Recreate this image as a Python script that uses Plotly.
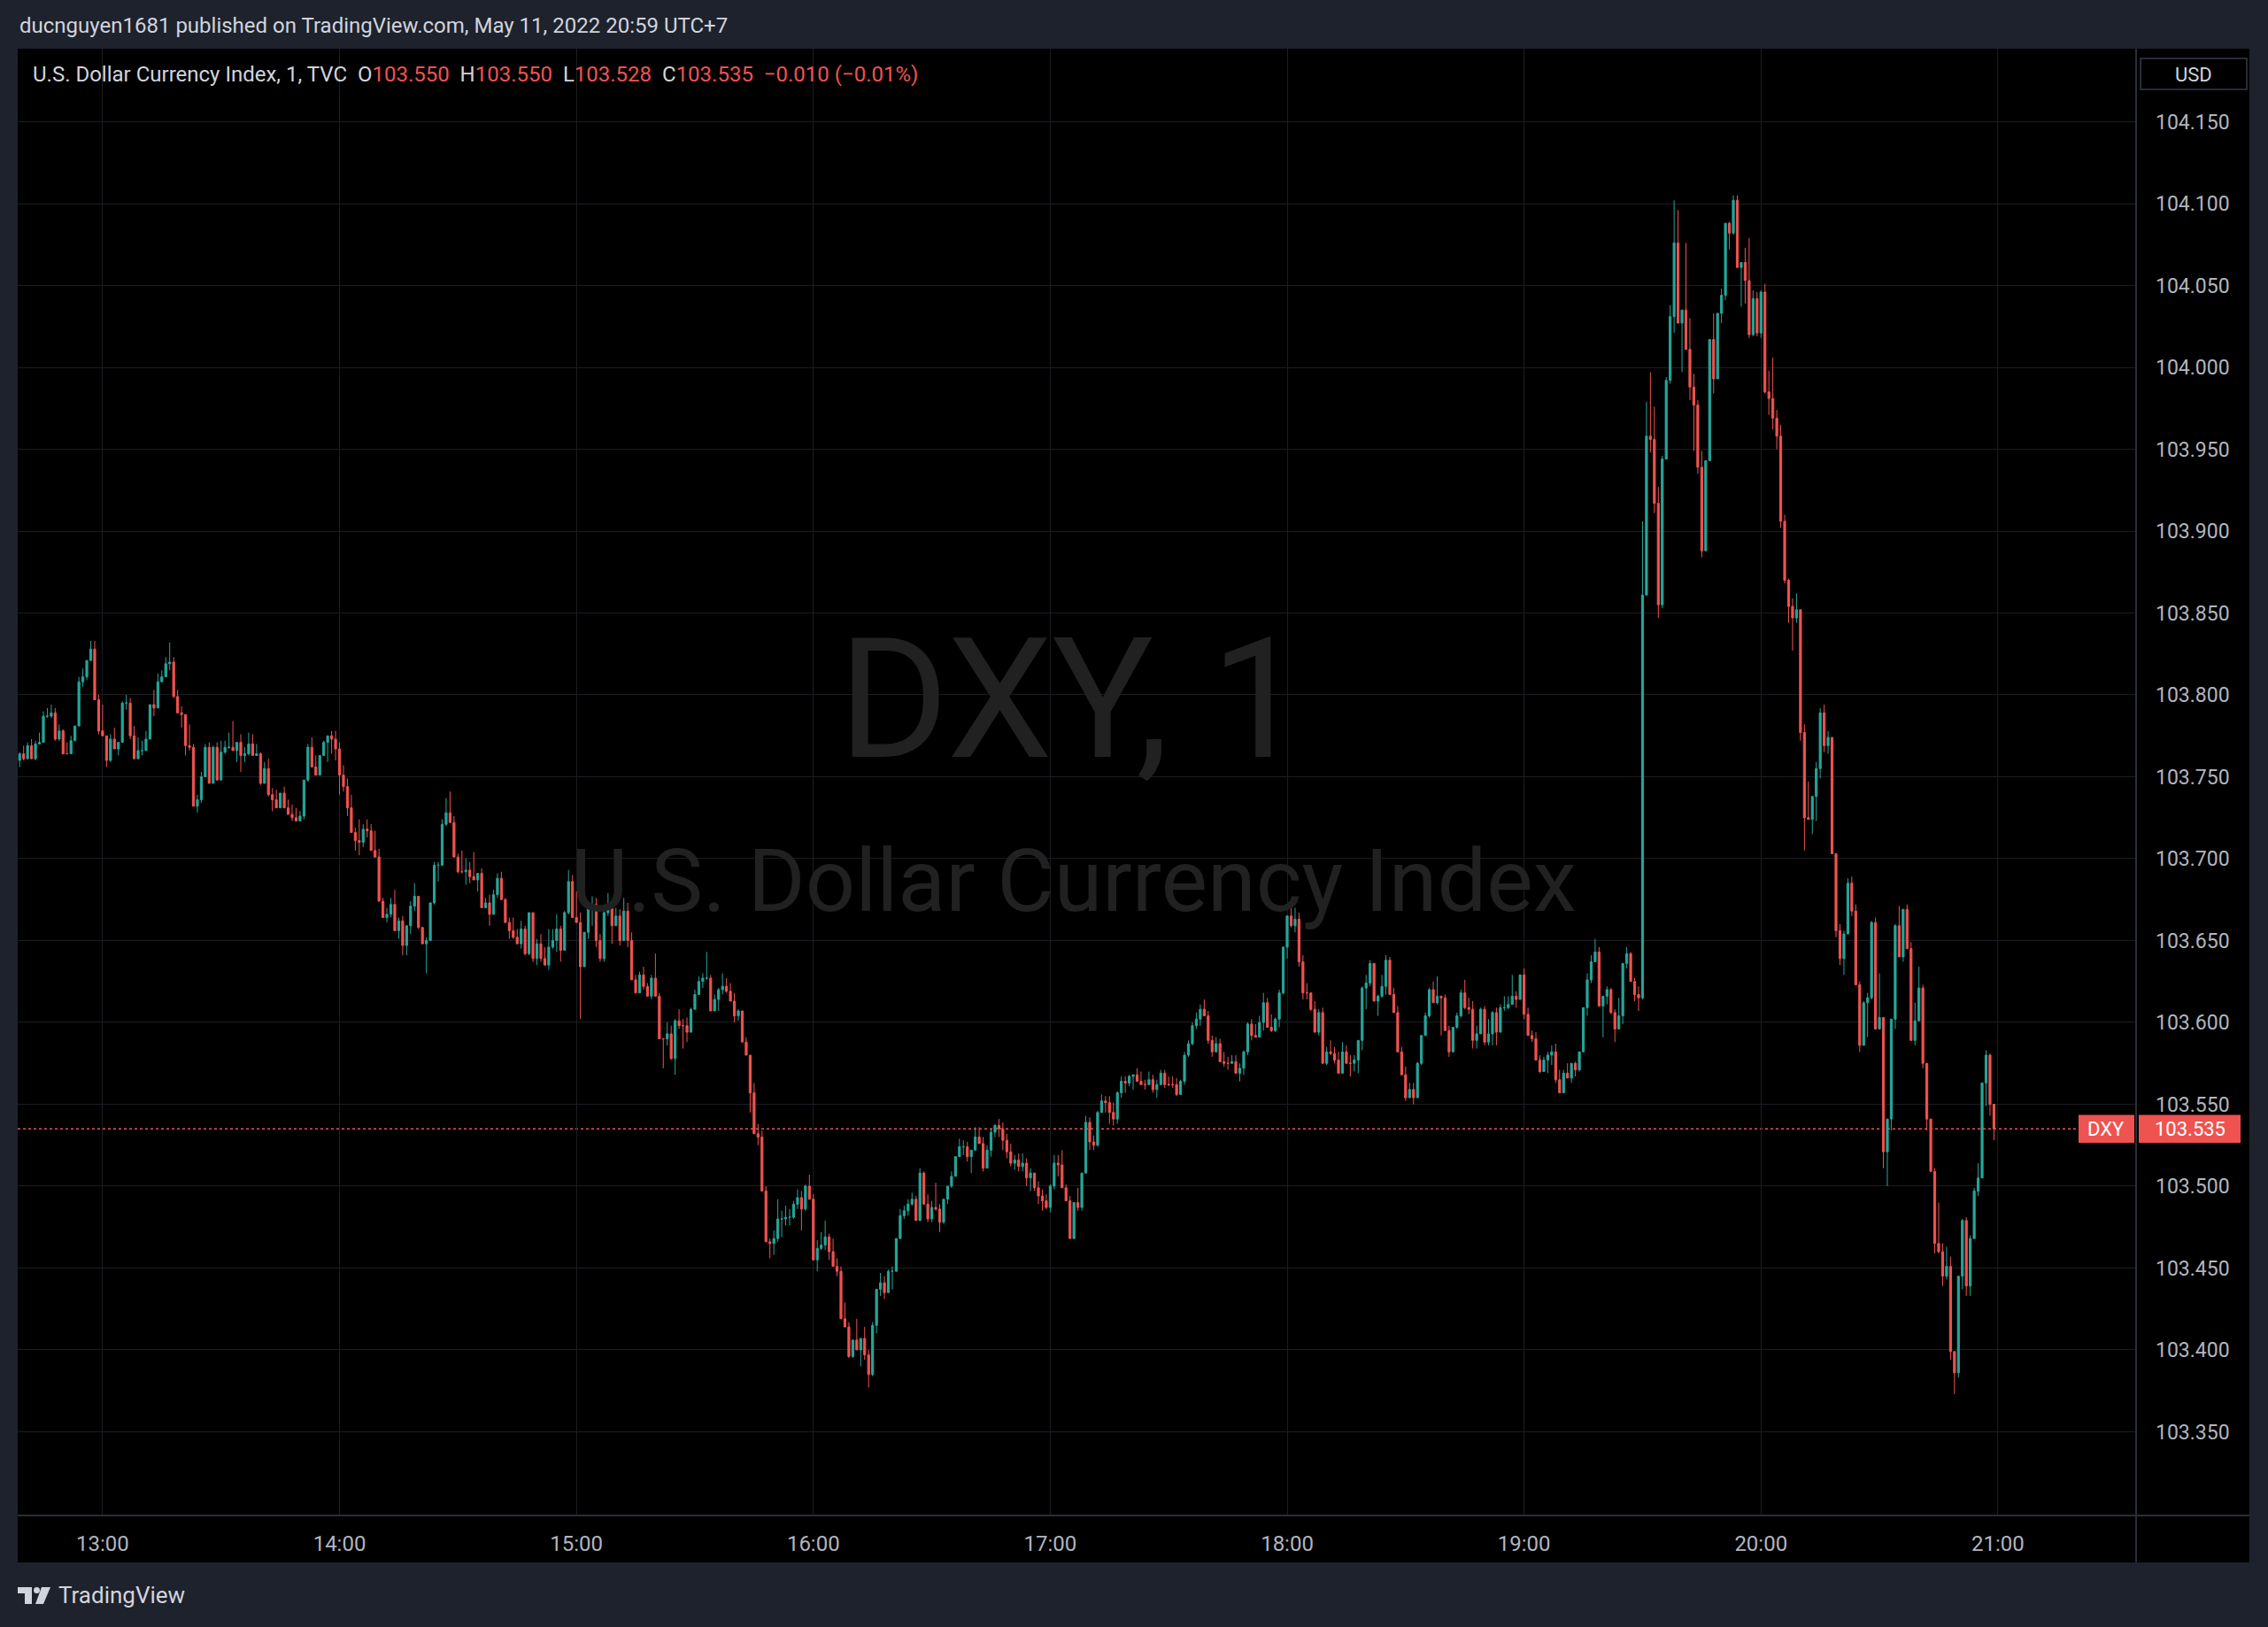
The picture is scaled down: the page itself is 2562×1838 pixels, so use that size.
import plotly.graph_objects as go
import pandas as pd

# ---------------- data (DXY, 1-minute, 11 May 2022, UTC+7) ----------------
start_time = "2022-05-11 12:39"
first_open = 103.760

closes = [
    103.764, 103.761, 103.769, 103.761, 103.770, 103.771, 103.787, 103.787, 103.789, 103.773,
    103.778, 103.764, 103.764, 103.772, 103.781, 103.808, 103.811, 103.821, 103.828, 103.797,
    103.778, 103.775, 103.760, 103.773, 103.767, 103.771, 103.795, 103.795, 103.775, 103.761,
    103.766, 103.766, 103.773, 103.794, 103.792, 103.808, 103.811, 103.819, 103.820, 103.799,
    103.789, 103.788, 103.769, 103.768, 103.732, 103.736, 103.750, 103.768, 103.746, 103.768,
    103.748, 103.765, 103.768, 103.768, 103.766, 103.771, 103.763, 103.764, 103.770, 103.763,
    103.764, 103.746, 103.755, 103.739, 103.736, 103.731, 103.740, 103.731, 103.727, 103.725,
    103.723, 103.726, 103.748, 103.768, 103.756, 103.751, 103.763, 103.771, 103.775, 103.773,
    103.767, 103.751, 103.744, 103.731, 103.716, 103.711, 103.710, 103.718, 103.717, 103.705,
    103.701, 103.674, 103.664, 103.666, 103.672, 103.656, 103.662, 103.647, 103.659, 103.671,
    103.677, 103.658, 103.648, 103.650, 103.673, 103.696, 103.696, 103.721, 103.728, 103.722,
    103.701, 103.692, 103.692, 103.693, 103.689, 103.687, 103.691, 103.670, 103.673, 103.666,
    103.678, 103.688, 103.675, 103.661, 103.656, 103.652, 103.648, 103.657, 103.642, 103.667,
    103.639, 103.648, 103.639, 103.635, 103.646, 103.650, 103.657, 103.644, 103.667, 103.686,
    103.664, 103.661, 103.634, 103.655, 103.670, 103.672, 103.650, 103.639, 103.667, 103.670,
    103.659, 103.665, 103.650, 103.668, 103.650, 103.626, 103.618, 103.629, 103.622, 103.616,
    103.627, 103.616, 103.590, 103.590, 103.593, 103.578, 103.601, 103.598, 103.598, 103.594,
    103.608, 103.617, 103.625, 103.627, 103.627, 103.607, 103.614, 103.620, 103.622, 103.619,
    103.613, 103.604, 103.607, 103.588, 103.580, 103.557, 103.532, 103.530, 103.497, 103.466,
    103.465, 103.468, 103.480, 103.480, 103.481, 103.481, 103.489, 103.493, 103.486, 103.500,
    103.492, 103.455, 103.462, 103.464, 103.469, 103.460, 103.451, 103.448, 103.419, 103.414,
    103.396, 103.406, 103.400, 103.407, 103.397, 103.385, 103.415, 103.437, 103.441, 103.435,
    103.448, 103.448, 103.468, 103.482, 103.485, 103.489, 103.492, 103.479, 103.508, 103.489,
    103.480, 103.487, 103.486, 103.478, 103.492, 103.500, 103.506, 103.518, 103.524, 103.524,
    103.518, 103.522, 103.530, 103.526, 103.511, 103.522, 103.533, 103.537, 103.535, 103.528,
    103.521, 103.514, 103.516, 103.512, 103.514, 103.505, 103.508, 103.499, 103.494, 103.491,
    103.487, 103.500, 103.514, 103.513, 103.499, 103.491, 103.468, 103.490, 103.487, 103.508,
    103.539, 103.527, 103.525, 103.545, 103.552, 103.551, 103.545, 103.541, 103.557, 103.564,
    103.563, 103.567, 103.568, 103.564, 103.562, 103.562, 103.565, 103.559, 103.562, 103.569,
    103.562, 103.562, 103.562, 103.556, 103.564, 103.580, 103.587, 103.598, 103.602, 103.608,
    103.604, 103.589, 103.582, 103.587, 103.576, 103.575, 103.575, 103.576, 103.569, 103.572,
    103.582, 103.599, 103.592, 103.591, 103.600, 103.612, 103.597, 103.595, 103.602, 103.618,
    103.646, 103.665, 103.659, 103.663, 103.637, 103.618, 103.618, 103.608, 103.594, 103.606,
    103.575, 103.582, 103.581, 103.577, 103.569, 103.582, 103.575, 103.575, 103.577, 103.589,
    103.621, 103.624, 103.636, 103.613, 103.616, 103.622, 103.638, 103.617, 103.606, 103.582,
    103.568, 103.554, 103.559, 103.554, 103.575, 103.592, 103.604, 103.620, 103.612, 103.616,
    103.615, 103.595, 103.582, 103.597, 103.604, 103.618, 103.609, 103.608, 103.589, 103.593,
    103.608, 103.588, 103.593, 103.606, 103.594, 103.609, 103.609, 103.611, 103.616, 103.614,
    103.629, 103.605, 103.592, 103.590, 103.577, 103.570, 103.577, 103.580, 103.582, 103.565,
    103.557, 103.569, 103.566, 103.575, 103.571, 103.582, 103.609, 103.626, 103.637, 103.643,
    103.610, 103.616, 103.620, 103.606, 103.596, 103.604, 103.636, 103.642, 103.625, 103.617,
    103.615, 103.861, 103.958, 103.956, 103.917, 103.855, 103.944, 103.992, 104.031, 104.076,
    104.027, 104.035, 104.011, 103.988, 103.977, 103.939, 103.888, 103.943, 104.017, 103.993,
    104.033, 104.044, 104.088, 104.082, 104.102, 104.061, 104.064, 104.053, 104.020, 104.042,
    104.021, 104.046, 103.985, 103.981, 103.969, 103.958, 103.906, 103.870, 103.854, 103.847,
    103.852, 103.777, 103.725, 103.724, 103.738, 103.755, 103.789, 103.769, 103.774, 103.703,
    103.656, 103.639, 103.654, 103.685, 103.668, 103.623, 103.586, 103.612, 103.615, 103.661,
    103.596, 103.603, 103.521, 103.541, 103.602, 103.659, 103.640, 103.669, 103.645, 103.589,
    103.601, 103.621, 103.575, 103.541, 103.509, 103.465, 103.460, 103.445, 103.451, 103.399,
    103.386, 103.445, 103.479, 103.439, 103.468, 103.497, 103.505, 103.563, 103.580, 103.550,
    103.535,
]

highs = [
    103.765, 103.769, 103.771, 103.773, 103.772, 103.777, 103.790, 103.792, 103.794, 103.792,
    103.782, 103.779, 103.771, 103.775, 103.781, 103.811, 103.816, 103.821, 103.833, 103.833,
    103.800, 103.794, 103.775, 103.776, 103.780, 103.771, 103.796, 103.800, 103.798, 103.781,
    103.774, 103.772, 103.778, 103.794, 103.803, 103.813, 103.815, 103.823, 103.832, 103.823,
    103.803, 103.793, 103.788, 103.782, 103.770, 103.739, 103.753, 103.770, 103.771, 103.769,
    103.771, 103.772, 103.772, 103.777, 103.784, 103.771, 103.776, 103.768, 103.777, 103.776,
    103.770, 103.765, 103.759, 103.761, 103.743, 103.742, 103.740, 103.744, 103.736, 103.733,
    103.731, 103.729, 103.748, 103.770, 103.774, 103.763, 103.763, 103.772, 103.775, 103.778,
    103.778, 103.771, 103.757, 103.749, 103.739, 103.719, 103.724, 103.721, 103.724, 103.721,
    103.717, 103.706, 103.676, 103.670, 103.676, 103.681, 103.664, 103.665, 103.659, 103.674,
    103.685, 103.677, 103.658, 103.652, 103.673, 103.698, 103.698, 103.724, 103.737, 103.741,
    103.726, 103.703, 103.705, 103.700, 103.698, 103.704, 103.691, 103.694, 103.676, 103.678,
    103.681, 103.691, 103.692, 103.676, 103.664, 103.664, 103.657, 103.662, 103.659, 103.667,
    103.666, 103.651, 103.654, 103.646, 103.657, 103.657, 103.666, 103.659, 103.668, 103.693,
    103.690, 103.680, 103.667, 103.655, 103.674, 103.677, 103.676, 103.654, 103.668, 103.679,
    103.672, 103.670, 103.669, 103.676, 103.673, 103.655, 103.629, 103.631, 103.634, 103.624,
    103.629, 103.642, 103.618, 103.590, 103.600, 103.598, 103.602, 103.608, 103.602, 103.603,
    103.609, 103.620, 103.628, 103.630, 103.643, 103.629, 103.617, 103.621, 103.630, 103.627,
    103.624, 103.618, 103.608, 103.607, 103.591, 103.580, 103.563, 103.538, 103.534, 103.500,
    103.468, 103.473, 103.492, 103.485, 103.488, 103.486, 103.491, 103.498, 103.497, 103.501,
    103.507, 103.495, 103.467, 103.472, 103.479, 103.471, 103.468, 103.456, 103.451, 103.429,
    103.417, 103.406, 103.419, 103.407, 103.414, 103.400, 103.417, 103.437, 103.447, 103.445,
    103.449, 103.451, 103.468, 103.486, 103.488, 103.492, 103.496, 103.494, 103.511, 103.509,
    103.495, 103.491, 103.502, 103.489, 103.492, 103.500, 103.509, 103.518, 103.529, 103.528,
    103.527, 103.522, 103.536, 103.536, 103.530, 103.525, 103.535, 103.538, 103.541, 103.539,
    103.532, 103.526, 103.519, 103.520, 103.520, 103.517, 103.511, 103.508, 103.503, 103.498,
    103.495, 103.501, 103.519, 103.519, 103.522, 103.501, 103.494, 103.490, 103.499, 103.508,
    103.543, 103.542, 103.531, 103.546, 103.556, 103.555, 103.555, 103.551, 103.558, 103.567,
    103.567, 103.568, 103.568, 103.572, 103.570, 103.565, 103.570, 103.568, 103.565, 103.571,
    103.571, 103.567, 103.567, 103.566, 103.565, 103.582, 103.589, 103.600, 103.606, 103.611,
    103.614, 103.607, 103.592, 103.591, 103.590, 103.582, 103.579, 103.580, 103.580, 103.575,
    103.583, 103.600, 103.602, 103.599, 103.604, 103.618, 103.615, 103.605, 103.603, 103.620,
    103.646, 103.665, 103.670, 103.670, 103.667, 103.641, 103.624, 103.618, 103.613, 103.608,
    103.609, 103.585, 103.589, 103.585, 103.582, 103.588, 103.586, 103.580, 103.580, 103.589,
    103.622, 103.629, 103.638, 103.636, 103.617, 103.629, 103.641, 103.640, 103.621, 103.610,
    103.585, 103.573, 103.563, 103.563, 103.576, 103.592, 103.606, 103.621, 103.625, 103.628,
    103.616, 103.617, 103.598, 103.597, 103.606, 103.620, 103.626, 103.615, 103.613, 103.598,
    103.609, 103.610, 103.602, 103.607, 103.609, 103.611, 103.616, 103.616, 103.629, 103.619,
    103.629, 103.633, 103.609, 103.595, 103.594, 103.580, 103.579, 103.582, 103.586, 103.587,
    103.571, 103.571, 103.575, 103.575, 103.576, 103.582, 103.609, 103.630, 103.641, 103.651,
    103.646, 103.616, 103.622, 103.621, 103.608, 103.615, 103.636, 103.646, 103.643, 103.627,
    103.622, 103.906, 103.979, 103.997, 103.976, 103.927, 103.946, 103.994, 104.038, 104.102,
    104.096, 104.035, 104.076, 104.030, 103.996, 103.980, 103.949, 103.943, 104.017, 104.033,
    104.033, 104.048, 104.088, 104.089, 104.105, 104.105, 104.064, 104.073, 104.079, 104.047,
    104.046, 104.047, 104.051, 103.998, 104.006, 103.974, 103.965, 103.910, 103.871, 103.859,
    103.862, 103.852, 103.782, 103.747, 103.738, 103.759, 103.792, 103.794, 103.778, 103.773,
    103.701, 103.660, 103.656, 103.688, 103.689, 103.672, 103.625, 103.613, 103.618, 103.662,
    103.664, 103.630, 103.602, 103.541, 103.602, 103.660, 103.671, 103.669, 103.672, 103.649,
    103.612, 103.634, 103.623, 103.574, 103.541, 103.511, 103.490, 103.465, 103.463, 103.457,
    103.399, 103.445, 103.480, 103.481, 103.470, 103.499, 103.514, 103.563, 103.583, 103.581,
    103.550,
]

lows = [
    103.756, 103.760, 103.762, 103.761, 103.760, 103.770, 103.774, 103.786, 103.786, 103.772,
    103.772, 103.764, 103.764, 103.765, 103.773, 103.781, 103.805, 103.809, 103.821, 103.797,
    103.776, 103.775, 103.756, 103.759, 103.767, 103.763, 103.771, 103.791, 103.773, 103.761,
    103.761, 103.763, 103.767, 103.773, 103.787, 103.794, 103.808, 103.811, 103.815, 103.798,
    103.789, 103.780, 103.763, 103.766, 103.732, 103.728, 103.734, 103.750, 103.746, 103.748,
    103.748, 103.753, 103.764, 103.767, 103.766, 103.759, 103.753, 103.759, 103.763, 103.763,
    103.763, 103.745, 103.746, 103.738, 103.729, 103.731, 103.732, 103.731, 103.727, 103.723,
    103.723, 103.723, 103.724, 103.747, 103.756, 103.751, 103.752, 103.763, 103.759, 103.764,
    103.760, 103.739, 103.741, 103.726, 103.716, 103.705, 103.702, 103.707, 103.713, 103.705,
    103.701, 103.674, 103.664, 103.661, 103.664, 103.656, 103.651, 103.641, 103.641, 103.654,
    103.668, 103.657, 103.648, 103.630, 103.651, 103.672, 103.686, 103.702, 103.720, 103.722,
    103.701, 103.691, 103.691, 103.684, 103.685, 103.687, 103.680, 103.670, 103.670, 103.659,
    103.668, 103.676, 103.675, 103.661, 103.651, 103.651, 103.648, 103.645, 103.641, 103.641,
    103.637, 103.635, 103.637, 103.635, 103.632, 103.645, 103.643, 103.637, 103.646, 103.666,
    103.664, 103.661, 103.602, 103.635, 103.651, 103.659, 103.646, 103.637, 103.637, 103.665,
    103.648, 103.659, 103.647, 103.653, 103.646, 103.626, 103.618, 103.621, 103.620, 103.616,
    103.614, 103.616, 103.590, 103.572, 103.586, 103.577, 103.568, 103.596, 103.584, 103.588,
    103.595, 103.609, 103.617, 103.621, 103.626, 103.607, 103.609, 103.607, 103.617, 103.618,
    103.613, 103.600, 103.601, 103.588, 103.580, 103.545, 103.532, 103.525, 103.497, 103.466,
    103.456, 103.458, 103.466, 103.469, 103.476, 103.476, 103.480, 103.486, 103.473, 103.485,
    103.492, 103.455, 103.448, 103.461, 103.461, 103.455, 103.451, 103.445, 103.419, 103.414,
    103.395, 103.395, 103.400, 103.390, 103.394, 103.377, 103.384, 103.410, 103.433, 103.431,
    103.436, 103.437, 103.449, 103.468, 103.480, 103.482, 103.488, 103.479, 103.483, 103.489,
    103.478, 103.478, 103.485, 103.472, 103.477, 103.489, 103.499, 103.508, 103.518, 103.519,
    103.515, 103.508, 103.522, 103.526, 103.509, 103.512, 103.518, 103.530, 103.530, 103.522,
    103.517, 103.512, 103.510, 103.509, 103.509, 103.500, 103.497, 103.497, 103.489, 103.485,
    103.486, 103.484, 103.498, 103.506, 103.499, 103.491, 103.468, 103.468, 103.485, 103.485,
    103.508, 103.522, 103.522, 103.524, 103.545, 103.545, 103.538, 103.537, 103.538, 103.554,
    103.557, 103.561, 103.559, 103.564, 103.562, 103.559, 103.562, 103.557, 103.554, 103.562,
    103.560, 103.561, 103.560, 103.555, 103.557, 103.562, 103.579, 103.586, 103.596, 103.598,
    103.604, 103.587, 103.579, 103.582, 103.576, 103.573, 103.571, 103.575, 103.569, 103.564,
    103.568, 103.580, 103.589, 103.591, 103.592, 103.595, 103.597, 103.594, 103.594, 103.597,
    103.617, 103.639, 103.658, 103.655, 103.634, 103.614, 103.614, 103.607, 103.594, 103.592,
    103.575, 103.574, 103.580, 103.575, 103.569, 103.569, 103.575, 103.567, 103.570, 103.569,
    103.583, 103.608, 103.622, 103.613, 103.604, 103.615, 103.617, 103.617, 103.606, 103.582,
    103.568, 103.552, 103.554, 103.550, 103.555, 103.574, 103.592, 103.603, 103.612, 103.611,
    103.592, 103.595, 103.579, 103.583, 103.596, 103.603, 103.608, 103.605, 103.584, 103.584,
    103.594, 103.586, 103.586, 103.586, 103.586, 103.594, 103.607, 103.608, 103.611, 103.609,
    103.615, 103.602, 103.592, 103.588, 103.577, 103.569, 103.570, 103.569, 103.574, 103.563,
    103.557, 103.559, 103.566, 103.563, 103.567, 103.570, 103.583, 103.604, 103.624, 103.637,
    103.610, 103.591, 103.611, 103.605, 103.588, 103.597, 103.599, 103.633, 103.625, 103.613,
    103.607, 103.614, 103.863, 103.948, 103.911, 103.847, 103.853, 103.948, 103.990, 104.021,
    104.027, 103.997, 104.011, 103.980, 103.949, 103.935, 103.884, 103.892, 103.945, 103.984,
    103.996, 104.027, 104.041, 104.072, 104.081, 104.061, 104.037, 104.039, 104.018, 104.019,
    104.019, 104.018, 103.984, 103.971, 103.962, 103.950, 103.902, 103.868, 103.844, 103.827,
    103.844, 103.772, 103.705, 103.724, 103.715, 103.723, 103.749, 103.765, 103.764, 103.703,
    103.652, 103.635, 103.629, 103.655, 103.665, 103.623, 103.582, 103.586, 103.591, 103.614,
    103.596, 103.597, 103.511, 103.500, 103.534, 103.596, 103.640, 103.637, 103.645, 103.589,
    103.586, 103.602, 103.572, 103.534, 103.509, 103.459, 103.459, 103.439, 103.443, 103.394,
    103.373, 103.383, 103.437, 103.433, 103.433, 103.468, 103.494, 103.510, 103.549, 103.543,
    103.528,
]

hour_ticks = ["13:00", "14:00", "15:00", "16:00", "17:00", "18:00", "19:00", "20:00", "21:00"]
price_ticks = ["103.350", "103.400", "103.450", "103.500", "103.550", "103.600", "103.650",
               "103.700", "103.750", "103.800", "103.850", "103.900", "103.950", "104.000",
               "104.050", "104.100", "104.150"]
last_price = 103.535

# ---------------- derived OHLC ----------------
opens = [first_open] + closes[:-1]
hi = [max(h, o, c) for h, o, c in zip(highs, opens, closes)]
lo = [min(l, o, c) for l, o, c in zip(lows, opens, closes)]
times = pd.date_range(start_time, periods=len(closes), freq="min")
hour_vals = [pd.Timestamp("2022-05-11 " + t) for t in hour_ticks]
price_vals = [float(p) for p in price_ticks]

# ---------------- layout geometry ----------------
W, H = 2562, 1838
ML, MR, MT, MB = 20, 149, 55, 126
PW, PH = W - ML - MR, H - MT - MB


def px(x):
    return (x - ML) / PW


def py(y):
    return (H - MB - y) / PH


FONT = "Roboto, 'Noto Sans', sans-serif"
FRAME = "#1e222d"
BORDER = "#2a2e39"
GRID = "#1b1d23"
TXT = "#b2b5be"
UP, DOWN = "#26a69a", "#ef5350"

fig = go.Figure(go.Candlestick(
    x=times, open=opens, high=hi, low=lo, close=closes,
    increasing=dict(line=dict(color=UP, width=1), fillcolor=UP),
    decreasing=dict(line=dict(color=DOWN, width=1), fillcolor=DOWN),
    whiskerwidth=0, hoverinfo="skip", showlegend=False,
))

shapes = []


def rect(x0, y0, x1, y1, color, line=None):
    shapes.append(dict(type="rect", xref="paper", yref="paper",
                       x0=px(x0), x1=px(x1), y0=py(y1), y1=py(y0),
                       fillcolor=color, line=dict(width=0) if line is None else line,
                       layer="above"))


# frame around the chart panel
rect(0, 0, W, 55, FRAME)
rect(0, 1765, W, H, FRAME)
rect(0, 0, 20, H, FRAME)
rect(2541, 0, W, H, FRAME)
# separators
shapes.append(dict(type="line", xref="paper", yref="paper", x0=px(2413), x1=px(2413),
                   y0=py(1765), y1=py(55), line=dict(color=BORDER, width=2), layer="above"))
shapes.append(dict(type="line", xref="paper", yref="paper", x0=px(20), x1=px(2541),
                   y0=py(1712), y1=py(1712), line=dict(color=BORDER, width=2), layer="above"))
# last price dotted line
shapes.append(dict(type="line", xref="paper", yref="y", x0=0, x1=1, y0=last_price, y1=last_price,
                   line=dict(color=DOWN, width=1.5, dash="dot"), layer="below"))
# price tags
shapes.append(dict(type="rect", xref="paper", yref="y", x0=px(2348), x1=px(2411),
                   y0=last_price - 0.0085, y1=last_price + 0.0085, fillcolor=DOWN,
                   line=dict(width=0), layer="above"))
shapes.append(dict(type="rect", xref="paper", yref="y", x0=px(2416), x1=px(2531),
                   y0=last_price - 0.0085, y1=last_price + 0.0085, fillcolor=DOWN,
                   line=dict(width=0), layer="above"))
# USD box
rect(2418, 66, 2538, 101, "#000000", line=dict(color="#363a45", width=1.5))
# TradingView logo (simple glyph)
rect(20, 1793, 36, 1800, "#d1d4dc")
rect(28, 1793, 36, 1812, "#d1d4dc")
shapes.append(dict(type="circle", xref="paper", yref="paper", x0=px(38), x1=px(45),
                   y0=py(1800), y1=py(1793), fillcolor="#d1d4dc", line=dict(width=0),
                   layer="above"))
shapes.append(dict(type="path", xref="paper", yref="paper",
                   path=f"M {px(47)} {py(1793)} L {px(57)} {py(1793)} L {px(49)} {py(1812)} "
                        f"L {px(40)} {py(1812)} Z",
                   fillcolor="#d1d4dc", line=dict(width=0), layer="above"))

annotations = []


def label(x, y, text, size, color, xanchor="left", family=FONT, yanchor="middle"):
    annotations.append(dict(xref="paper", yref="paper", x=px(x), y=py(y), text=text,
                            showarrow=False, xanchor=xanchor, yanchor=yanchor,
                            font=dict(family=family, size=size, color=color)))


# watermark
label(1211, 790, "DXY, 1", 190, "#212121", xanchor="center")
label(1213, 995, "U.S. Dollar Currency Index", 99, "#212121", xanchor="center")

# top bar
label(20, 29, "ducnguyen1681 published on TradingView.com, May 11, 2022 20:59 UTC+7", 24, "#d1d4dc")
# legend line
red = lambda s: f'<span style="color:{DOWN}">{s}</span>'
sp = "\u00a0\u00a0"
legend_txt = ("U.S. Dollar Currency Index, 1, TVC" + sp + "O" + red("103.550") + sp + "H" + red("103.550")
              + sp + "L" + red("103.528") + sp + "C" + red("103.535") + sp + red("\u22120.010 (\u22120.01%)"))
label(35, 84, legend_txt, 24, "#d1d4dc")
# USD
label(2478, 84, "USD", 22, "#d1d4dc", xanchor="center")
# price tags text
annotations.append(dict(xref="paper", yref="y", x=px(2379), y=last_price, text="DXY", showarrow=False,
                        xanchor="center", yanchor="middle", font=dict(family=FONT, size=22, color="#ffffff")))
annotations.append(dict(xref="paper", yref="y", x=px(2474), y=last_price, text="103.535", showarrow=False,
                        xanchor="center", yanchor="middle", font=dict(family=FONT, size=22, color="#ffffff")))
# bottom logo text
label(64, 1802, "TradingView", 26, "#d1d4dc")

fig.update_layout(
    width=W, height=H, autosize=False,
    margin=dict(l=ML, r=MR, t=MT, b=MB, pad=0),
    paper_bgcolor="#000000", plot_bgcolor="#000000",
    shapes=shapes, annotations=annotations, showlegend=False,
    font=dict(family=FONT, color=TXT, size=23),
    xaxis=dict(
        type="date", range=["2022-05-11 12:38:30", "2022-05-11 21:35:00"],
        tickvals=hour_vals, ticktext=hour_ticks, showgrid=True, gridcolor=GRID, gridwidth=1,
        zeroline=False, showline=False, ticks="", ticklabelstandoff=15,
        tickfont=dict(family=FONT, size=24, color=TXT),
        rangeslider=dict(visible=False), fixedrange=True,
    ),
    yaxis=dict(
        side="right", range=[103.2989, 104.1946],
        tickvals=price_vals, ticktext=price_ticks, showgrid=True, gridcolor=GRID, gridwidth=1,
        zeroline=False, showline=False, ticks="", ticklabelstandoff=21,
        tickfont=dict(family=FONT, size=23, color=TXT), fixedrange=True,
    ),
)

fig.write_html(
    "out.html",
    config={"displayModeBar": False},
    post_script="document.body.style.margin='0';document.body.style.padding='0';"
                "document.body.style.background='#1e222d';document.body.style.overflow='hidden';",
)
